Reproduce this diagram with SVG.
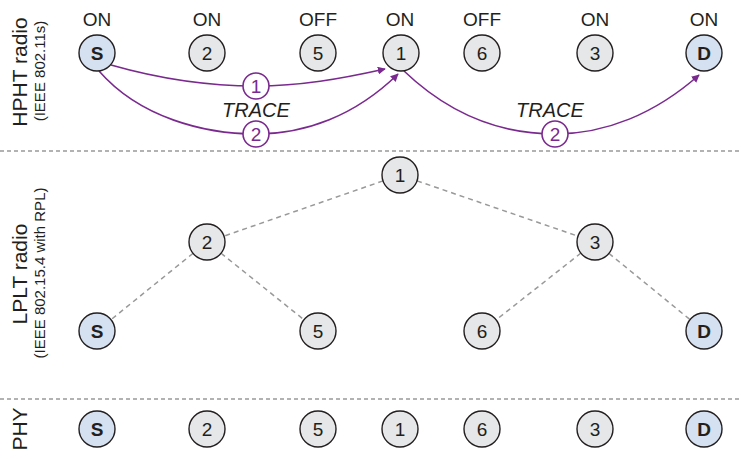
<svg xmlns="http://www.w3.org/2000/svg" width="741" height="459" viewBox="0 0 741 459">
<defs>
<style>
text{font-family:"Liberation Sans",Arial,sans-serif;fill:#231f20}
.n circle{fill:#e6e7e8;stroke:#231f20;stroke-width:1.4}
.n.e circle{fill:#d5e0f0}
.n text{font-size:19px;text-anchor:middle}
.n.e text{font-weight:bold}
.st{font-size:19px;text-anchor:middle}
.sep{stroke:#999;stroke-width:1.5;stroke-dasharray:4 3}
.tree line{stroke:#999;stroke-width:1.5;stroke-dasharray:5 4}
.tr path{fill:none;stroke:#7a2a8e;stroke-width:1.6;marker-end:url(#ah)}
.lb circle{fill:#fff;stroke:#7a2a8e;stroke-width:1.6}
.lb text{fill:#7a2a8e;font-size:19px;text-anchor:middle}
.trace{font-size:20px;font-style:italic;text-anchor:middle}
.big{font-size:21px;text-anchor:middle}
.sm{font-size:15px;text-anchor:middle}
</style>
<marker id="ah" viewBox="0 0 10 10" refX="9" refY="5" markerWidth="8" markerHeight="8" markerUnits="userSpaceOnUse" orient="auto">
<path d="M0,0 L10,5 L0,10 z" fill="#7a2a8e"/>
</marker>
</defs>
<rect width="741" height="459" fill="#fff"/>
<line class="sep" x1="0" y1="151" x2="741" y2="151"/>
<line class="sep" x1="0" y1="399" x2="741" y2="399"/>
<g id="side-labels">
<text class="big" transform="translate(27,72) rotate(-90)">HPHT radio</text>
<text class="sm" transform="translate(45,71) rotate(-90)">(IEEE 802.11s)</text>
<text class="big" transform="translate(27,274) rotate(-90)">LPLT radio</text>
<text class="sm" transform="translate(45,273) rotate(-90)">(IEEE 802.15.4 with RPL)</text>
<text class="big" transform="translate(27,429) rotate(-90)">PHY</text>
</g>
<g id="states">
<text class="st" x="97" y="26">ON</text>
<text class="st" x="207" y="26">ON</text>
<text class="st" x="318" y="26">OFF</text>
<text class="st" x="400" y="26">ON</text>
<text class="st" x="482" y="26">OFF</text>
<text class="st" x="595" y="26">ON</text>
<text class="st" x="704" y="26">ON</text>
</g>
<g id="connectors">
<g class="tree">
<line x1="400" y1="175" x2="207" y2="242"/>
<line x1="400" y1="175" x2="595" y2="242"/>
<line x1="207" y1="242" x2="97" y2="331"/>
<line x1="207" y1="242" x2="318" y2="331"/>
<line x1="595" y1="242" x2="482" y2="331"/>
<line x1="595" y1="242" x2="704" y2="331"/>
</g>
<g class="tr">
<path d="M111,65 C160,79 210,86 256,86 C300,86 340,79 385,69"/>
<path d="M99,71 C140,118 205,134 256,134 C305,134 355,116 398,74"/>
<path d="M404,71 C450,115 500,134 555,134 C605,134 655,114 699,75"/>
</g>
</g>
<g id="hpht-nodes">
<g id="h-S" class="n e"><circle cx="97" cy="53" r="18"/><text x="97" y="60">S</text></g>
<g id="h-2" class="n"><circle cx="207" cy="53" r="18"/><text x="207" y="60">2</text></g>
<g id="h-5" class="n"><circle cx="318" cy="53" r="18"/><text x="318" y="60">5</text></g>
<g id="h-1" class="n"><circle cx="401" cy="53" r="18"/><text x="401" y="60">1</text></g>
<g id="h-6" class="n"><circle cx="482" cy="53" r="18"/><text x="482" y="60">6</text></g>
<g id="h-3" class="n"><circle cx="595" cy="53" r="18"/><text x="595" y="60">3</text></g>
<g id="h-D" class="n e"><circle cx="704" cy="53" r="18"/><text x="704" y="60">D</text></g>
</g>
<g id="trace-labels">
<g id="lb1" class="lb"><circle cx="256" cy="86" r="13"/><text x="256" y="93">1</text></g>
<g id="lb2" class="lb"><circle cx="256" cy="134" r="13"/><text x="256" y="141">2</text></g>
<g id="lb3" class="lb"><circle cx="555" cy="134" r="13"/><text x="555" y="141">2</text></g>
<text class="trace" x="256" y="117">TRACE</text>
<text class="trace" x="550" y="117">TRACE</text>
</g>
<g id="lplt-nodes">
<g id="l-1" class="n"><circle cx="400" cy="175" r="18"/><text x="400" y="182">1</text></g>
<g id="l-2" class="n"><circle cx="207" cy="242" r="18"/><text x="207" y="249">2</text></g>
<g id="l-3" class="n"><circle cx="595" cy="242" r="18"/><text x="595" y="249">3</text></g>
<g id="l-S" class="n e"><circle cx="97" cy="331" r="18"/><text x="97" y="338">S</text></g>
<g id="l-5" class="n"><circle cx="318" cy="331" r="18"/><text x="318" y="338">5</text></g>
<g id="l-6" class="n"><circle cx="482" cy="331" r="18"/><text x="482" y="338">6</text></g>
<g id="l-D" class="n e"><circle cx="704" cy="331" r="18"/><text x="704" y="338">D</text></g>
</g>
<g id="phy-nodes">
<g id="p-S" class="n e"><circle cx="97" cy="429" r="18"/><text x="97" y="436">S</text></g>
<g id="p-2" class="n"><circle cx="207" cy="429" r="18"/><text x="207" y="436">2</text></g>
<g id="p-5" class="n"><circle cx="318" cy="429" r="18"/><text x="318" y="436">5</text></g>
<g id="p-1" class="n"><circle cx="400" cy="429" r="18"/><text x="400" y="436">1</text></g>
<g id="p-6" class="n"><circle cx="482" cy="429" r="18"/><text x="482" y="436">6</text></g>
<g id="p-3" class="n"><circle cx="595" cy="429" r="18"/><text x="595" y="436">3</text></g>
<g id="p-D" class="n e"><circle cx="704" cy="429" r="18"/><text x="704" y="436">D</text></g>
</g>
</svg>
